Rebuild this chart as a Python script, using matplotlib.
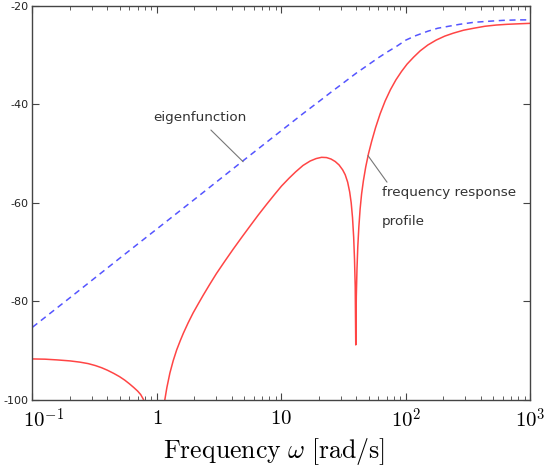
import matplotlib
matplotlib.use("Agg")
import matplotlib.pyplot as plt
import matplotlib.transforms as mtransforms

# ---- data ----
blue_w = [0.1, 0.2, 0.5, 1, 2, 5, 10, 15, 20, 25, 30, 40, 50, 60, 70, 85, 100, 120, 150,
          180, 220, 270, 350, 450, 600, 800, 1000]
blue_db = [-85.3, -79.3, -71.3, -65.3, -59.3, -51.3, -45.3, -41.8, -39.4, -37.5, -36.0, -33.6,
           -31.9, -30.5, -29.4, -28.1, -26.9, -26.0, -25.1, -24.5, -24.1, -23.7, -23.3, -23.1,
           -22.9, -22.8, -22.8]

red_w = [0.1, 0.126, 0.158, 0.2, 0.24, 0.28, 0.32, 0.36, 0.4, 0.45, 0.5, 0.55, 0.6, 0.65,
         0.7, 0.74, 0.775, 0.81, 0.85,
         1.12, 1.157, 1.2, 1.27, 1.35, 1.44, 1.54, 1.63, 1.78, 1.95, 2.15, 2.35, 2.65, 3.0,
         3.5, 4.1, 4.8, 5.6, 6.5, 7.6, 8.8, 10.0, 11.5, 13.0, 14.9, 17, 19, 21, 23, 25, 27, 29,
         31, 32.5, 34, 35.3, 36.3, 37.2, 38.0, 38.6, 39.1, 39.5, 39.9, 40.4, 41.0, 41.8, 42.8,
         44.0, 45.5, 47.5, 50, 53, 57, 62, 68, 75, 83, 92, 102, 115, 130, 150, 175, 205, 240,
         290, 350, 430, 530, 650, 800, 1000]
red_db = [-91.75, -91.8, -91.95, -92.15, -92.4, -92.7, -93.1, -93.55, -94.05, -94.7, -95.35,
          -96.05, -96.8, -97.55, -98.3, -99.0, -99.9, -101.0, -102.5,
          -103.0, -100.0, -97.6, -94.6, -92.1, -89.9, -88.0, -86.5, -84.4, -82.4, -80.5, -78.8,
          -76.6, -74.4, -71.9, -69.4, -67.0, -64.7, -62.5, -60.3, -58.3, -56.6, -55.0, -53.7,
          -52.4, -51.5, -51.0, -50.75, -50.8, -51.1, -51.6, -52.3, -53.3, -54.3, -55.8,
          -57.8, -60.0, -63.0, -67.0, -71.5, -77.0, -88.9, -79.0, -73.5, -69.0, -65.0, -61.3,
          -58.2, -55.5, -52.7, -50.0, -47.5, -44.7, -41.9, -39.3, -37.0, -35.0, -33.3, -31.8,
          -30.4, -29.1, -27.9, -26.9, -26.1, -25.5, -24.9, -24.5, -24.1, -23.85, -23.7, -23.6,
          -23.5]

yticks = [-100, -80, -60, -40, -20]
xticks = [0.1, 1, 10, 100, 1000]
xticklabels = [r"$10^{-1}$", r"$1$", r"$10$", r"$10^{2}$", r"$10^{3}$"]

plt.rcParams["mathtext.fontset"] = "cm"

fig = plt.figure(figsize=(5.47, 4.70), dpi=100)
ax = fig.add_axes([0.0594, 0.15, 0.9104, 0.837])

ax.plot(blue_w, blue_db, color="#5555ff", lw=1.1, ls=(0, (4, 3)))
ax.plot(red_w, red_db, color="#ff4545", lw=1.1)

ax.set_xscale("log")
ax.set_xlim(0.1, 1000)
ax.set_ylim(-100, -20)
ax.set_yticks(yticks)
ax.set_yticklabels([str(v) for v in yticks], fontsize=8, color="#222222")
ax.set_xticks(xticks)
ax.set_xticklabels(xticklabels, fontsize=15)
ax.tick_params(axis="both", which="both", direction="in", top=True, right=True, color="#444444")
ax.tick_params(axis="x", which="major", length=5, pad=6)
ax.tick_params(axis="x", which="minor", length=3)
ax.tick_params(axis="y", which="major", length=5, pad=3)
ax.tick_params(axis="y", which="minor", left=False, right=False)
for s in ax.spines.values():
    s.set_color("#444444")
    s.set_linewidth(1.0)

# shift the first x tick label right like in the reference
lbl0 = ax.get_xticklabels()[0]
lbl0.set_transform(lbl0.get_transform() + mtransforms.ScaledTranslation(11 / 100, 0, fig.dpi_scale_trans))

ax.set_xlabel(r"$\mathrm{Frequency}\ \omega\ [\mathrm{rad/s}]$", fontsize=18.6, labelpad=4)
ax.xaxis.set_label_coords(0.486, -0.092)

# annotations
ax.text(2.21, -42.6, "eigenfunction", fontsize=9.7, color="#333333", ha="center", va="center")
ax.annotate("", xy=(4.92, -51.65), xytext=(2.71, -45.2),
            arrowprops=dict(arrowstyle="-", color="#777777", lw=0.8, shrinkA=0, shrinkB=0))
ax.text(63.8, -58.0, "frequency response", fontsize=9.7, color="#333333", ha="left", va="center")
ax.text(63.8, -63.9, "profile", fontsize=9.7, color="#333333", ha="left", va="center")
ax.annotate("", xy=(49.5, -50.4), xytext=(70.4, -55.8),
            arrowprops=dict(arrowstyle="-", color="#777777", lw=0.8, shrinkA=0, shrinkB=0))

fig.savefig("out.png", dpi=100)
